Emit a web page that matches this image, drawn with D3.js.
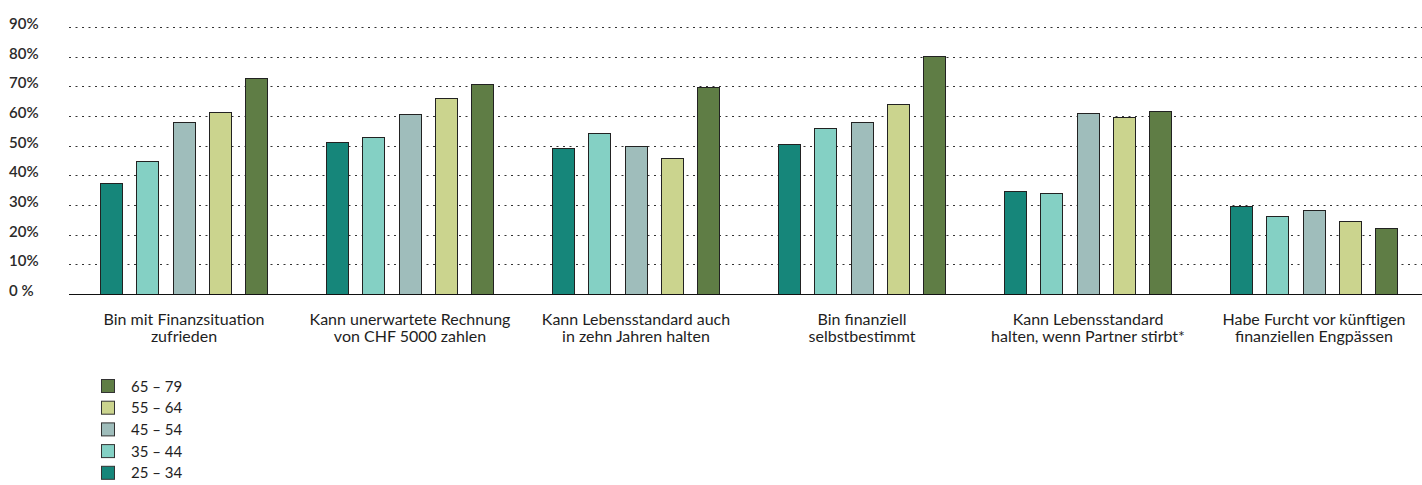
<!DOCTYPE html>
<html>
<head>
<meta charset="utf-8">
<script src="https://cdn.jsdelivr.net/npm/d3@7"></script>
<style>
  html, body { margin: 0; padding: 0; background: #ffffff; }
  svg { display: block; }
  text { font-family: Lato, "Noto Sans", sans-serif; }
</style>
</head>
<body>
<div id="chart"></div>
<script>
// ---- data ----
const categories = [
  ["Bin mit Finanzsituation", "zufrieden"],
  ["Kann unerwartete Rechnung", "von CHF 5000 zahlen"],
  ["Kann Lebensstandard auch", "in zehn Jahren halten"],
  ["Bin finanziell", "selbstbestimmt"],
  ["Kann Lebensstandard", "halten, wenn Partner stirbt*"],
  ["Habe Furcht vor künftigen", "finanziellen Engpässen"]
];
const ageGroups = ["25 – 34", "35 – 44", "45 – 54", "55 – 64", "65 – 79"];
const age25_34 = [37.4, 51.2, 49.1, 50.7, 34.6, 29.6];
const age35_44 = [44.9, 53.0, 54.4, 56.0, 34.2, 26.2];
const age45_54 = [57.9, 60.6, 49.8, 57.9, 60.9, 28.4];
const age55_64 = [61.4, 65.9, 45.7, 63.9, 59.8, 24.5];
const age65_79 = [72.7, 70.9, 69.7, 80.1, 61.6, 22.1];
const seriesValues = [age25_34, age35_44, age45_54, age55_64, age65_79];
const colors = ["#16867a", "#84d0c4", "#9fbdbb", "#cbd48e", "#5f7d45"];
const yTicks = [0, 10, 20, 30, 40, 50, 60, 70, 80, 90];
const yTickLabels = ["0 %", "10%", "20%", "30%", "40%", "50%", "60%", "70%", "80%", "90%"];

// ---- layout ----
const W = 1422, H = 485;
const svg = d3.select("#chart").append("svg").attr("width", W).attr("height", H);

const y = d3.scaleLinear().domain([0, 90]).range([294, 27]);
const x0 = d3.scaleBand().domain(d3.range(categories.length)).range([71, 1427]).padding(0);
const x1 = d3.scaleBand().domain(d3.range(ageGroups.length)).range([0, x0.bandwidth()])
  .paddingInner(0.366).paddingOuter(0.8);

// gridlines
const grid = svg.append("g");
grid.selectAll("line").data(yTicks.filter(t => t > 0)).join("line")
  .attr("x1", 69).attr("x2", W)
  .attr("y1", d => Math.round(y(d)) + 0.5).attr("y2", d => Math.round(y(d)) + 0.5)
  .attr("stroke", "#333").attr("stroke-width", 1).attr("stroke-dasharray", "2,4.5");

// y tick labels
svg.append("g").selectAll("text").data(yTicks).join("text")
  .attr("x", 9).attr("y", d => Math.round(y(d)) + 1.5)
  .attr("font-size", 15).attr("font-weight", 600).attr("fill", "#2a2a2a")
  .text((d, i) => yTickLabels[i]);

// bars
const groups = svg.append("g").selectAll("g").data(categories).join("g")
  .attr("transform", (d, i) => `translate(${x0(i)},0)`);
groups.selectAll("rect").data((d, i) => seriesValues.map((s, k) => ({k, v: s[i]}))).join("rect")
  .attr("x", d => Math.round(x1(d.k)) + 0.5)
  .attr("y", d => Math.round(y(d.v)) + 0.5)
  .attr("width", Math.round(x1.bandwidth()) - 1)
  .attr("height", d => Math.round(y(0)) - Math.round(y(d.v)))
  .attr("fill", d => colors[d.k])
  .attr("stroke", "#222").attr("stroke-width", 1);

// baseline
svg.append("line").attr("x1", 69).attr("x2", W)
  .attr("y1", Math.round(y(0)) + 0.5).attr("y2", Math.round(y(0)) + 0.5)
  .attr("stroke", "#111").attr("stroke-width", 1.2);

// x labels
const xl = svg.append("g").selectAll("text").data(categories).join("text")
  .attr("x", (d, i) => x0(i) + x0.bandwidth() / 2)
  .attr("y", 325)
  .attr("text-anchor", "middle").attr("font-size", 16).attr("fill", "#1e1e1e");
xl.selectAll("tspan").data(d => d).join("tspan")
  .attr("x", function() { return this.parentNode.getAttribute("x"); })
  .attr("dy", (d, i) => i === 0 ? 0 : 16.5)
  .text(d => d);

// legend (reverse order)
const legendOrder = d3.range(ageGroups.length).reverse();
const lg = svg.append("g").selectAll("g").data(legendOrder).join("g")
  .attr("transform", (d, i) => `translate(101, ${379 + i * 21.7})`);
lg.append("rect").attr("x", 0.5).attr("y", 0.5).attr("width", 13).attr("height", 13)
  .attr("fill", d => colors[d]).attr("stroke", "#333").attr("stroke-width", 1);
lg.append("text").attr("x", 30).attr("y", 12.5).attr("font-size", 15).attr("fill", "#1e1e1e")
  .text(d => ageGroups[d]);
</script>
</body>
</html>
